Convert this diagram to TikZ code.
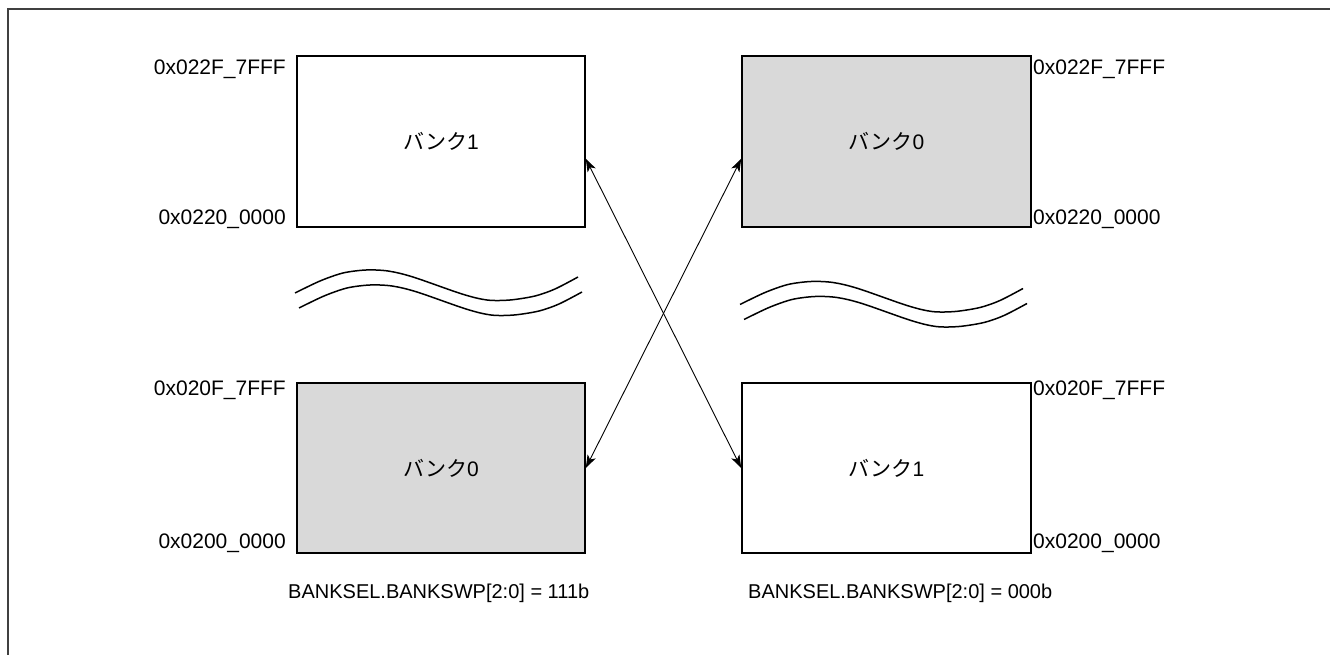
\documentclass[tikz,border=0pt]{standalone}
\usepackage{fontspec}
\setmainfont{Liberation Sans}
\newfontfamily\cjk{Noto Sans CJK JP}
\usepackage{xcolor}
\usepackage{tikz}
\usetikzlibrary{calc,arrows.meta}
\definecolor{bancogris}{RGB}{217,217,217}
\definecolor{marcogris}{RGB}{64,64,64}

\begin{document}
\begin{tikzpicture}[x=1pt, y=-1pt, >={Stealth[length=13pt,width=9pt,inset=3.5pt]},
    every node/.style={font=\fontsize{21}{25}\selectfont},
    banco/.style={draw, line width=1.6pt, minimum width=288pt, minimum height=171pt, inner sep=0pt},
    dir/.style={inner sep=0pt}]
    \useasboundingbox (0,0) rectangle (1330,655);
    % marco recortado (arriba e izquierda)
    \draw[marcogris,line width=2pt] (7.5,655)--(7.5,9.5)--(1330,9.5);
    % bancos de la izquierda (BANKSWP = 111b)
    \node[banco] (b1izq) at (441,141.5){{\cjk バンク}1};
    \node[banco,fill=bancogris,minimum height=170pt] (b0izq) at (441,468){{\cjk バンク}0};
    % bancos de la derecha (BANKSWP = 000b)
    \node[banco,fill=bancogris,minimum width=289pt] (b0der) at (886.5,141.5){{\cjk バンク}0};
    \node[banco,minimum width=289pt,minimum height=170pt] (b1der) at (886.5,468){{\cjk バンク}1};
    % direcciones
    \node[dir,anchor=base east] (a1) at (286,75){0x022F\_7FFF};
    \node[dir,anchor=base east] (a2) at (286,225){0x0220\_0000};
    \node[dir,anchor=base east] (a3) at (286,395){0x020F\_7FFF};
    \node[dir,anchor=base east] (a4) at (286,548){0x0200\_0000};
    \node[dir,anchor=base west] (a5) at (1033,75){0x022F\_7FFF};
    \node[dir,anchor=base west] (a6) at (1033,225){0x0220\_0000};
    \node[dir,anchor=base west] (a7) at (1033,395){0x020F\_7FFF};
    \node[dir,anchor=base west] (a8) at (1033,548){0x0200\_0000};
    % condicion de cada mapa
    \node[dir,anchor=base west,font=\fontsize{20}{24}\selectfont] (c1) at (288,598){BANKSEL.BANKSWP[2:0] = 111b};
    \node[dir,anchor=base west,font=\fontsize{20}{24}\selectfont] (c2) at (748,598){BANKSEL.BANKSWP[2:0] = 000b};
    % cortes ondulados
    \foreach \dx/\dy in {0/0, 4/15, 445/11.5, 449/26.5}
        \draw[line width=1.5pt,shift={(\dx,\dy)}] plot[smooth] coordinates {(295,293) (320,281) (343,273) (366,270) (388,271) (413,277) (462,294) (487,300) (510,300) (535,296) (555,289) (578,277)};
    % intercambio de bancos
    \draw[<->,line width=0.9pt] ($(b1izq.north east)!0.6!(b1izq.south east)$)--(b1der.west);
    \draw[<->,line width=0.9pt] ($(b0der.north west)!0.6!(b0der.south west)$)--(b0izq.east);
\end{tikzpicture}
\end{document}
